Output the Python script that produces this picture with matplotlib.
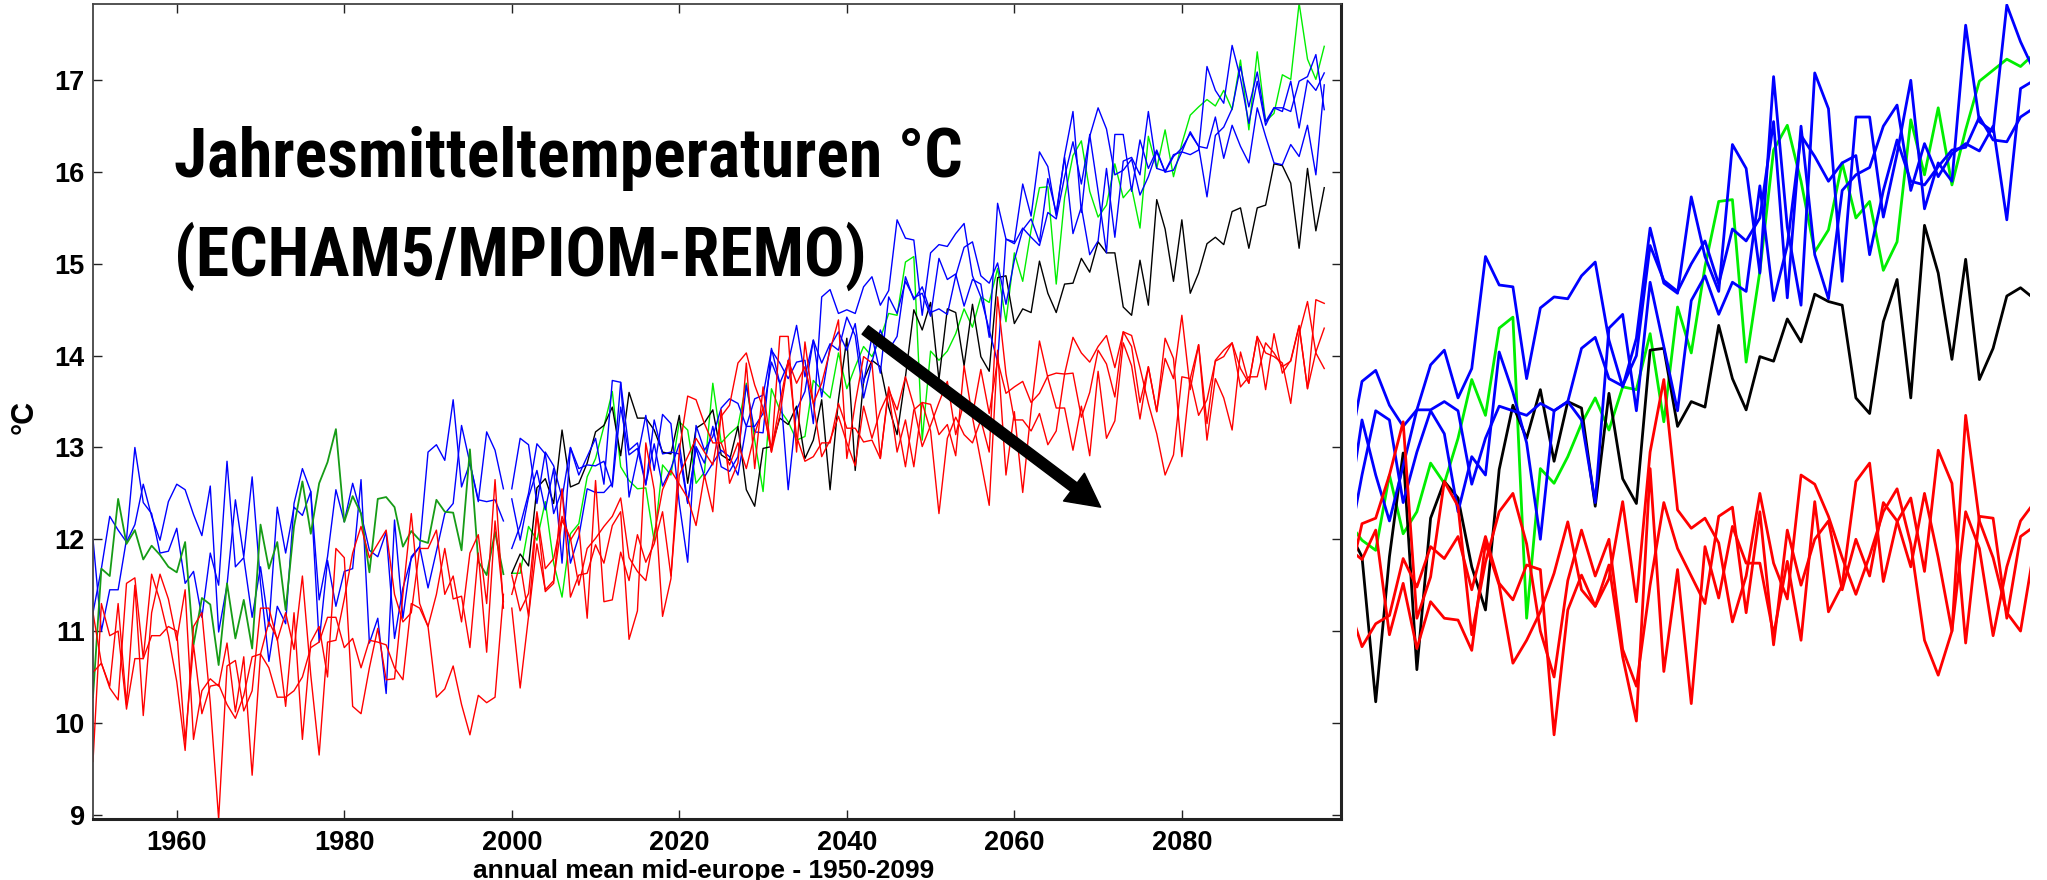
import numpy as np
import matplotlib
matplotlib.use("Agg")
import matplotlib.pyplot as plt
from matplotlib import font_manager

plt.rcParams['font.family'] = ['Liberation Sans', 'DejaVu Sans']
plt.rcParams['font.weight'] = 'bold'

# ---------------- data: 1950-1999 (historical runs) ----------------
years_hist = np.arange(1950, 2000)

green_hist = [10.28, 11.68, 11.60, 12.44, 11.95, 12.10, 11.78, 11.93, 11.83, 11.70,
              11.64, 11.97, 10.85, 11.36, 11.29, 10.63, 11.52, 10.92, 11.34, 10.81,
              12.16, 11.68, 11.97, 11.23, 12.14, 12.63, 12.06, 12.61, 12.84, 13.20,
              12.19, 12.47, 12.28, 11.64, 12.44, 12.46, 12.35, 11.92, 12.09, 11.99,
              11.96, 12.43, 12.30, 12.29, 11.88, 12.98, 11.76, 11.61, 12.08, 11.62]

blue_hist_1 = [12.00, 11.00, 11.45, 11.45, 12.00, 13.00, 12.40, 12.28, 11.85, 11.87,
               12.12, 11.52, 11.65, 11.15, 11.85, 11.50, 12.85, 11.70, 11.80, 11.15,
               11.70, 11.05, 12.35, 11.85, 12.35, 12.26, 12.52, 10.88, 11.77, 11.27,
               11.65, 11.68, 12.65, 10.87, 11.14, 10.32, 12.21, 11.14, 11.81, 11.92,
               11.47, 11.87, 12.28, 12.39, 13.24, 12.83, 12.43, 12.41, 12.43, 12.20]

blue_hist_2 = [11.20, 11.68, 12.25, 12.10, 11.97, 12.16, 12.60, 12.25, 11.99, 12.41,
               12.60, 12.54, 12.27, 12.04, 12.58, 10.99, 11.50, 12.43, 11.81, 12.68,
               11.52, 10.67, 11.27, 11.08, 12.39, 12.77, 12.52, 11.34, 11.81, 12.54,
               12.19, 12.61, 12.28, 11.88, 11.81, 12.08, 10.92, 11.47, 11.79, 11.92,
               12.95, 13.03, 12.86, 13.52, 12.57, 12.83, 12.41, 13.17, 12.97, 12.55]

red_hist_1 = [9.58, 11.30, 10.95, 11.00, 10.15, 10.70, 10.70, 10.95, 10.95, 11.05,
              11.00, 9.80, 10.85, 10.10, 10.40, 10.42, 10.20, 10.05, 10.30, 10.72,
              10.75, 10.60, 10.28, 10.28, 10.35, 10.50, 10.82, 10.88, 11.15, 11.15,
              10.82, 10.92, 10.60, 10.90, 10.88, 10.85, 10.60, 10.47, 11.30, 11.25,
              11.05, 10.28, 10.37, 10.62, 10.20, 9.87, 10.30, 10.22, 10.28, 11.40]

red_hist_2 = [11.20, 10.65, 10.40, 11.30, 10.20, 11.50, 10.08, 11.20, 11.62, 11.35,
              10.90, 11.45, 9.82, 10.35, 10.48, 10.40, 10.87, 10.12, 10.72, 9.43,
              10.75, 11.10, 10.92, 10.18, 11.20, 9.82, 10.88, 11.05, 10.50, 11.90,
              11.80, 10.18, 10.10, 10.60, 11.03, 10.47, 10.48, 11.40, 12.28, 11.30,
              11.05, 11.40, 11.90, 11.35, 11.38, 10.82, 11.85, 10.77, 12.20, 11.32]

red_hist_3 = [10.55, 10.65, 10.38, 10.25, 11.52, 11.58, 10.70, 11.62, 11.33, 10.95,
              10.45, 9.70, 11.05, 11.20, 10.22, 8.95, 10.62, 10.68, 10.13, 10.35,
              11.25, 11.25, 10.90, 11.20, 10.80, 11.60, 10.52, 9.65, 10.88, 10.90,
              11.35, 11.85, 12.14, 11.80, 11.95, 12.10, 11.40, 11.10, 11.20, 11.90,
              11.90, 12.10, 11.40, 11.60, 11.10, 11.85, 12.05, 11.30, 12.65, 11.25]

# ---------------- data: 2000-2097 (scenario runs) ----------------
years_fut = np.arange(2000, 2098)

black_fut = [11.63, 11.84, 11.71, 12.56, 12.66, 12.39, 13.19, 12.57, 12.61, 12.83,
             13.17, 13.24, 13.44, 12.91, 13.60, 13.32, 13.32, 13.19, 12.95, 12.93,
             13.35, 12.61, 13.21, 13.27, 13.41,
             12.92, 12.86, 13.23, 12.54, 12.36, 12.99, 13.01, 13.32, 13.25, 13.45,
             12.88, 13.08, 13.52, 12.54, 13.52, 14.19, 12.75, 13.73, 13.95, 13.88,
             13.44, 13.14, 13.77, 14.50, 14.28,
             14.58, 13.74, 14.51, 14.47, 13.89, 14.56, 13.99, 13.83, 14.85, 14.87,
             14.35, 14.51, 14.47, 15.03, 14.68, 14.47, 14.78, 14.79, 15.06, 14.91,
             15.24, 15.12, 15.12, 14.53, 14.44, 15.04,
             14.55, 15.70, 15.38, 14.81, 15.48, 14.68, 14.90, 15.22, 15.29, 15.21,
             15.57, 15.61, 15.17, 15.61, 15.64, 16.09, 16.07, 15.88, 15.17, 16.04,
             15.36, 15.83]

green_fut = [11.63, 11.63, 12.14, 11.99, 12.41, 11.74, 11.37, 12.06, 12.17, 12.68,
             12.88, 13.23, 13.61, 12.79, 12.64, 12.55, 12.56, 11.98, 12.81, 12.70,
             13.28, 13.19, 12.61, 12.73, 13.70,
             13.05, 13.15, 13.23, 13.70, 13.08, 12.52, 13.64, 13.41, 13.28, 13.08,
             13.12, 13.73, 13.63, 13.54, 14.03, 13.64, 13.88, 14.10, 13.99, 14.19,
             14.46, 14.44, 15.02, 15.08, 13.08,
             14.05, 13.95, 14.05, 14.24, 14.51, 14.31, 14.64, 14.58, 14.95, 14.37,
             15.12, 14.81, 15.37, 15.83, 15.84, 14.78, 15.72, 16.18, 16.34, 15.79,
             15.51, 15.64, 16.09, 15.72, 15.83, 15.39,
             16.39, 16.04, 16.46, 15.95, 16.31, 16.62, 16.71, 16.79, 16.72, 16.89,
             16.68, 17.22, 16.46, 17.31, 16.55, 16.64, 17.06, 17.01, 17.84, 17.23,
             17.01, 17.37]

blue_fut_1 = [12.55, 13.10, 13.03, 12.39, 12.95, 12.80, 12.45, 13.00, 12.70, 12.90,
              13.10, 12.60, 13.73, 13.71, 12.46, 12.89, 13.35, 12.75, 13.36, 13.26,
              12.39, 11.75, 13.24, 12.97, 13.12,
              13.43, 13.53, 13.48, 13.23, 13.53, 13.57, 14.06, 13.92, 13.75, 13.93,
              13.95, 13.26, 14.64, 14.72, 14.46, 14.50, 14.46, 14.75, 14.86, 14.55,
              14.71, 15.48, 15.28, 15.26, 14.44,
              15.12, 15.21, 15.19, 15.33, 15.44, 14.87, 14.64, 14.28, 13.93, 15.27,
              15.22, 15.39, 15.29, 15.20, 15.56, 15.49, 15.95, 16.33, 15.87, 16.39,
              16.70, 16.47, 15.97, 16.02, 16.14, 15.75,
              15.95, 16.22, 16.00, 16.02, 16.22, 16.19, 16.24, 17.15, 16.89, 16.75,
              17.38, 17.02, 16.53, 16.99, 16.51, 16.70, 16.66, 16.99, 16.48, 17.00,
              16.89, 17.08]

blue_fut_2 = [12.44, 11.99, 12.46, 12.75, 12.32, 12.77, 11.74, 13.00, 12.77, 12.81,
              12.80, 12.85, 12.57, 13.44, 12.92, 12.99, 12.59, 13.30, 12.93, 12.95,
              12.93, 12.39, 13.01, 12.83, 13.23,
              12.79, 12.74, 12.90, 13.68, 13.17, 13.16, 14.08, 13.70, 13.92, 14.33,
              13.77, 14.17, 13.55, 14.10, 14.26, 14.06, 14.35, 13.70, 14.21, 13.81,
              14.64, 14.46, 14.81, 14.63, 14.68,
              14.43, 15.06, 14.83, 14.89, 14.54, 14.83, 14.78, 14.20, 15.66, 15.27,
              15.24, 15.87, 15.52, 16.22, 16.06, 15.52, 16.18, 16.66, 15.56, 16.41,
              15.79, 15.12, 16.41, 16.41, 15.79, 16.35,
              16.04, 16.24, 16.00, 16.17, 16.26, 16.42, 16.28, 15.73, 16.40, 16.49,
              16.69, 17.15, 16.71, 17.09, 16.55, 16.70, 16.70, 16.66, 16.99, 17.04,
              17.28, 16.68]

blue_fut_3 = [11.90, 12.15, 12.50, 13.04, 12.93, 12.28, 12.54, 11.74, 12.03, 12.55,
              12.51, 12.51, 12.61, 13.71, 12.97, 13.05, 12.60, 13.04, 12.58, 12.77,
              13.04, 12.40, 12.99, 12.68, 12.83,
              12.97, 12.90, 12.70, 13.23, 13.23, 13.37, 13.93, 13.70, 12.54, 13.41,
              13.61, 14.17, 13.92, 14.13, 14.06, 14.42, 14.22, 13.54, 13.93, 14.28,
              14.06, 14.21, 14.86, 14.61, 14.75,
              14.47, 14.51, 14.45, 14.87, 15.18, 15.24, 14.87, 14.79, 15.01, 14.56,
              15.04, 15.37, 15.49, 15.24, 15.93, 15.56, 16.16, 15.33, 15.62, 15.10,
              15.25, 16.04, 15.29, 16.12, 16.16, 15.97,
              16.66, 16.04, 16.01, 16.19, 16.22, 16.44, 16.28, 16.26, 16.60, 16.15,
              16.51, 16.28, 16.10, 16.70, 16.39, 16.10, 16.08, 16.30, 16.17, 16.51,
              15.97, 16.95]

red_fut_1 = [11.25, 10.38, 11.16, 11.95, 11.45, 11.55, 12.21, 12.01, 11.50, 11.90,
             12.01, 12.14, 12.25, 12.45, 11.80, 11.65, 11.55, 12.05, 12.54, 12.75,
             12.60, 12.45, 12.15, 12.70, 12.30,
             13.41, 12.61, 12.83, 13.92, 12.77, 13.66, 12.95, 14.21, 14.21, 12.95,
             14.15, 13.48, 12.90, 13.08, 13.34, 13.05, 12.80, 13.45, 13.10, 13.40,
             13.60, 12.95, 13.30, 12.79, 13.49,
             13.47, 13.14, 13.25, 12.91, 13.89, 13.33, 12.85, 12.37, 14.06, 12.70,
             13.39, 12.51, 13.41, 14.16, 13.76, 13.43, 13.43, 12.97, 13.45, 12.91,
             13.83, 13.10, 13.29, 14.14, 13.89, 13.31,
             13.88, 13.39, 14.19, 13.97, 12.90, 13.75, 14.12, 13.26, 13.95, 14.06,
             14.14, 13.66, 13.77, 13.77, 14.14, 14.03, 13.88, 13.94, 14.32, 13.64,
             14.04, 14.30]

red_fut_2 = [11.61, 11.22, 11.41, 12.30, 11.68, 11.79, 12.25, 11.99, 12.14, 11.14,
             12.64, 11.32, 11.34, 11.86, 11.55, 12.05, 11.75, 11.95, 12.30, 11.60,
             12.70, 12.90, 13.10, 12.95, 12.81,
             13.34, 13.46, 13.92, 14.03, 13.68, 13.43, 12.97, 13.48, 13.95, 13.70,
             13.88, 13.48, 13.70, 14.06, 14.39, 12.88, 13.48, 13.99, 13.92, 12.88,
             13.63, 13.41, 13.77, 13.45, 13.01,
             13.24, 13.49, 13.72, 13.14, 13.50, 13.35, 13.85, 13.37, 13.95, 13.59,
             13.66, 13.72, 13.49, 13.59, 13.78, 13.81, 13.80, 13.81, 13.33, 13.60,
             14.06, 13.91, 13.55, 14.26, 14.10, 13.49,
             13.88, 13.39, 13.97, 13.75, 14.44, 13.63, 14.12, 13.08, 13.75, 13.54,
             13.19, 14.04, 13.70, 14.21, 13.63, 14.24, 13.81, 13.95, 14.33, 13.64,
             14.61, 14.57]

red_fut_3 = [11.40, 11.74, 11.16, 12.28, 11.43, 11.52, 12.55, 11.37, 11.61, 11.63,
             11.94, 11.74, 12.15, 12.30, 10.91, 11.22, 13.05, 12.54, 11.16, 11.57,
             12.97, 13.56, 13.52, 13.26, 13.05,
             13.05, 12.81, 13.05, 12.77, 13.15, 13.43, 12.95, 13.35, 13.95, 13.12,
             12.85, 12.90, 13.05, 13.05, 13.48, 13.21, 13.21, 13.06, 13.08, 12.88,
             13.66, 13.30, 12.79, 13.41, 13.49,
             13.18, 12.28, 13.10, 13.33, 13.14, 13.05, 13.30, 12.95, 14.64, 13.80,
             13.30, 13.30, 13.18, 13.37, 13.03, 13.18, 13.80, 14.20, 14.03, 13.93,
             14.10, 14.22, 13.87, 14.26, 14.22, 13.87,
             13.48, 13.15, 12.70, 12.92, 13.77, 13.75, 13.35, 13.52, 13.94, 13.99,
             14.14, 13.86, 13.70, 14.21, 14.03, 13.99, 13.92, 13.48, 14.24, 14.59,
             14.03, 13.86]

# ---------------- data: magnified strip on the right ----------------
strip_step = np.arange(51)

strip_blue_1 = [12.90, 13.72, 13.84, 13.46, 13.23, 13.41, 13.90, 14.06, 13.54, 13.86,
                15.08, 14.77, 14.75, 13.75, 14.52, 14.64, 14.62, 14.87, 15.02, 14.17,
                13.66, 14.19, 15.39, 14.79, 14.68, 15.73, 15.08, 14.70, 16.30, 16.04,
                14.90, 17.04, 15.40, 14.55, 17.08, 16.69, 14.81, 16.60, 16.60, 15.51,
                16.20, 17.00, 15.60, 16.10, 15.90, 17.60, 16.55, 16.44, 17.82, 17.42,
                17.10]
strip_blue_2 = [12.30, 13.30, 12.70, 12.20, 12.80, 13.41, 13.41, 13.50, 13.40, 12.60,
                13.10, 13.45, 13.40, 13.35, 13.48, 13.40, 13.50, 14.08, 14.20, 13.75,
                13.67, 14.00, 15.20, 14.82, 14.70, 15.00, 15.25, 14.78, 15.38, 15.25,
                15.50, 16.55, 14.63, 16.50, 15.10, 14.62, 15.80, 15.97, 16.05, 16.50,
                16.73, 15.80, 16.31, 15.95, 16.20, 16.31, 16.23, 16.50, 15.48, 16.91,
                17.00]
strip_blue_3 = [11.90, 12.70, 13.40, 13.30, 12.40, 12.95, 13.40, 13.15, 12.30, 12.90,
                12.70, 14.04, 13.60, 13.05, 12.00, 13.40, 13.50, 13.30, 12.40, 14.30,
                14.45, 13.40, 14.80, 14.10, 13.40, 14.60, 14.87, 14.45, 14.80, 14.70,
                15.85, 14.60, 15.20, 16.40, 16.17, 15.90, 16.10, 16.18, 15.10, 15.80,
                16.35, 15.90, 15.86, 16.06, 16.24, 16.27, 16.60, 16.35, 16.33, 16.60,
                16.70]
strip_black = [12.10, 11.81, 10.23, 11.81, 12.94, 10.58, 12.23, 12.63, 12.45, 11.70,
               11.23, 12.76, 13.46, 13.10, 13.63, 12.85, 13.50, 13.43, 12.36, 13.59,
               12.66, 12.39, 14.06, 14.08, 13.23, 13.50, 13.44, 14.33, 13.75, 13.41,
               13.99, 13.94, 14.40, 14.15, 14.67, 14.59, 14.55, 13.54, 13.37, 14.37,
               14.83, 13.54, 15.42, 14.90, 13.96, 15.05, 13.74, 14.08, 14.65, 14.74,
               14.62]
strip_green = [12.19, 11.99, 11.88, 12.70, 12.06, 12.30, 12.83, 12.61, 13.10, 13.74,
               13.35, 14.30, 14.42, 11.14, 12.77, 12.61, 12.90, 13.26, 13.54, 13.19,
               13.66, 13.63, 14.24, 13.28, 14.53, 14.03, 14.97, 15.68, 15.70, 13.93,
               14.92, 16.24, 16.51, 15.90, 15.13, 15.37, 16.10, 15.50, 15.68, 14.93,
               15.24, 16.57, 15.97, 16.70, 15.86, 16.46, 16.99, 17.11, 17.23, 17.15,
               17.29]
strip_red_1 = [11.30, 10.83, 11.08, 11.17, 11.79, 11.48, 11.92, 11.79, 12.03, 11.45,
               12.03, 11.52, 11.34, 11.72, 11.67, 9.87, 11.23, 11.61, 11.27, 11.72,
               10.72, 10.02, 12.77, 10.56, 11.67, 10.21, 11.92, 11.36, 12.14, 11.74,
               11.74, 10.96, 11.76, 10.90, 12.41, 11.21, 11.50, 12.63, 12.83, 11.54,
               12.19, 12.45, 11.65, 12.97, 12.61, 10.87, 12.25, 12.23, 11.14, 12.03,
               12.14]
strip_red_2 = [11.90, 11.78, 12.10, 10.96, 11.52, 10.81, 11.32, 11.14, 11.12, 10.79,
               11.96, 11.50, 10.65, 10.90, 11.21, 11.63, 12.19, 11.45, 11.27, 11.57,
               12.41, 11.32, 12.95, 13.74, 12.32, 12.12, 12.23, 11.96, 11.10, 11.60,
               12.50, 11.74, 11.35, 12.70, 12.60, 12.25, 11.80, 11.40, 11.82, 12.30,
               12.55, 11.95, 10.90, 10.52, 11.00, 13.35, 12.20, 11.80, 11.20, 11.00,
               11.90]
strip_red_3 = [11.50, 12.17, 12.23, 12.70, 13.28, 11.14, 11.59, 12.63, 12.36, 10.96,
               11.75, 12.30, 12.50, 11.95, 11.00, 10.50, 11.55, 12.10, 11.60, 12.00,
               10.80, 10.40, 11.50, 12.40, 11.90, 11.60, 11.30, 12.25, 12.35, 11.20,
               12.30, 10.85, 12.10, 11.50, 12.00, 12.20, 11.45, 12.00, 11.60, 12.40,
               12.20, 11.70, 12.50, 11.80, 11.00, 12.30, 11.90, 10.95, 11.70, 12.20,
               12.40]

x_ticks = [1960, 1980, 2000, 2020, 2040, 2060, 2080]
y_ticks = [9, 10, 11, 12, 13, 14, 15, 16, 17]

for s in (green_hist, blue_hist_1, blue_hist_2, red_hist_1, red_hist_2, red_hist_3):
    assert len(s) == len(years_hist)
for s in (black_fut, green_fut, blue_fut_1, blue_fut_2, blue_fut_3,
          red_fut_1, red_fut_2, red_fut_3):
    assert len(s) == len(years_fut), len(s)
for s in (strip_blue_1, strip_blue_2, strip_blue_3, strip_black, strip_green,
          strip_red_1, strip_red_2, strip_red_3):
    assert len(s) == len(strip_step), len(s)

BLUE, RED, GREEN, BLACK, DKGREEN = '#0000ff', '#ff0000', '#00ee00', '#000000', '#169c16'

W, H = 2047, 880
fig = plt.figure(figsize=(W / 100, H / 100), dpi=100)
fig.patch.set_facecolor('white')

YLIM = (8.953, 17.831)

# ---------------- main panel ----------------
ax = fig.add_axes([93 / W, 1 - 819 / H, (1341 - 93) / W, (819 - 4) / H])
lw = 1.0
for s in (blue_hist_1, blue_hist_2):
    ax.plot(years_hist, s, color=BLUE, lw=lw)
ax.plot(years_hist, green_hist, color=DKGREEN, lw=1.3)
for s in (red_hist_1, red_hist_2, red_hist_3):
    ax.plot(years_hist, s, color=RED, lw=lw)

ax.plot(years_fut, green_fut, color=GREEN, lw=lw)
ax.plot(years_fut, black_fut, color=BLACK, lw=lw)
for s in (blue_fut_1, blue_fut_2, blue_fut_3):
    ax.plot(years_fut, s, color=BLUE, lw=lw)
for s in (red_fut_1, red_fut_2, red_fut_3):
    ax.plot(years_fut, s, color=RED, lw=lw)

ax.set_xlim(1950, 2099)
ax.set_ylim(*YLIM)
ax.set_xticks(x_ticks)
ax.set_yticks(y_ticks)
ax.tick_params(direction='in', length=6.5, width=1.0, top=True, right=True,
               labelsize=19.5, pad=6, colors='#222222', labelcolor='black')
ax.tick_params(axis='x', pad=8)
for lab in ax.get_xticklabels() + ax.get_yticklabels():
    lab.set_fontweight('bold')
for side in ('left', 'top'):
    ax.spines[side].set_linewidth(1.3)
    ax.spines[side].set_color('#444444')
for side in ('bottom', 'right'):
    ax.spines[side].set_linewidth(2.2)
    ax.spines[side].set_color('#222222')

ax.set_xlabel('annual mean mid-europe - 1950-2099', fontsize=19, fontweight='bold')
ax.xaxis.set_label_coords(0.489, -0.0485)
ax.xaxis.label.set_va('top')
ax.set_ylabel('°C', fontsize=22, fontweight='bold')
ax.yaxis.set_label_coords(-0.0545, 0.493)
ax.yaxis.label.set_va('center')

# title block: prefer a narrow bold face, then fit the first line to its width
avail = {f.name for f in font_manager.fontManager.ttflist}
title_family = next((c for c in ['Liberation Sans Narrow', 'Arial Narrow', 'Roboto Condensed',
                                 'Open Sans Condensed', 'Nimbus Sans Narrow', 'Liberation Sans']
                     if c in avail), 'DejaVu Sans')
t1 = ax.text(0.0649, 0.7877, 'Jahresmitteltemperaturen °C', transform=ax.transAxes,
             family=[title_family, 'DejaVu Sans'], fontsize=45, fontweight='bold',
             ha='left', va='baseline')
t2 = ax.text(0.0649, 0.666, '(ECHAM5/MPIOM-REMO)', transform=ax.transAxes,
             family=[title_family, 'DejaVu Sans'], fontsize=45, fontweight='bold',
             ha='left', va='baseline')
renderer = fig.canvas.get_renderer()
width_now = t1.get_window_extent(renderer).width
fs = 45 * 788.0 / width_now
t1.set_fontsize(fs)
t2.set_fontsize(fs)

ax.annotate('', xy=(2070.3, 12.35), xytext=(2042.2, 14.28),
            arrowprops=dict(facecolor='black', edgecolor='black', width=7.6,
                            headwidth=25, headlength=24, shrink=0.0))

# ---------------- magnified strip ----------------
ax2 = fig.add_axes([1357 / W, 1 - 819 / H, (2030 - 1357) / W, (819 - 4) / H])
lw2 = 2.0
ax2.plot(strip_step, strip_green, color=GREEN, lw=lw2)
ax2.plot(strip_step, strip_black, color=BLACK, lw=lw2)
for s in (strip_blue_1, strip_blue_2, strip_blue_3):
    ax2.plot(strip_step, s, color=BLUE, lw=lw2)
for s in (strip_red_1, strip_red_2, strip_red_3):
    ax2.plot(strip_step, s, color=RED, lw=lw2)
ax2.set_xlim(0.636, 49.69)
ax2.set_ylim(*YLIM)
ax2.axis('off')

fig.savefig('out.png', dpi=100, facecolor='white')
